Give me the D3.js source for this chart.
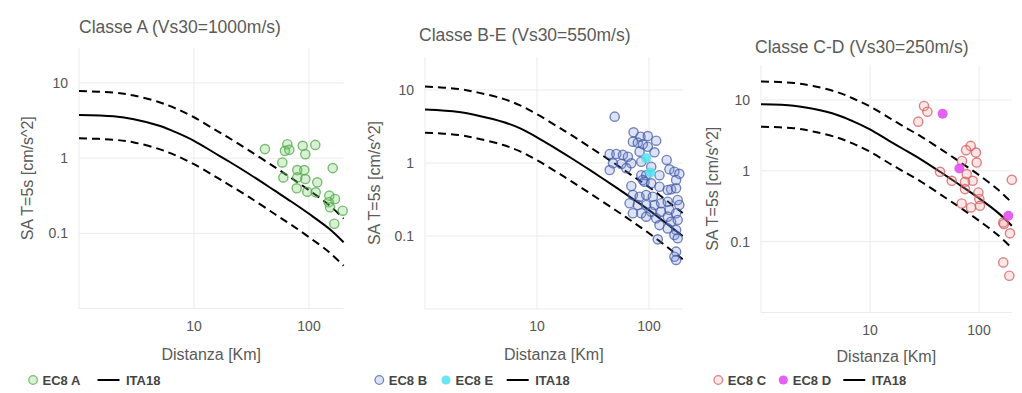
<!doctype html>
<html>
<head>
<meta charset="utf-8">
<script src="https://d3js.org/d3.v7.min.js"></script>
<style>
  body { margin: 0; background: #fff; }
  text { font-family: "Liberation Sans", Arial, sans-serif; }
</style>
</head>
<body>
<svg id="chart" width="1022" height="393"></svg>
<script>

// model curve distances (km)
var curveDist = [1, 2, 3, 5, 7, 10, 15, 20, 30, 50, 70, 100, 150, 200];

// ITA18 median and +/- sigma, SA T=5s
var ita18A    = [3.75, 3.6, 3.3, 2.7, 2.2, 1.7, 1.18, 0.91, 0.62, 0.372, 0.265, 0.182, 0.115, 0.076];
var ita18A_hi = [7.8, 7.45, 6.8, 5.55, 4.55, 3.5, 2.42, 1.87, 1.27, 0.765, 0.545, 0.375, 0.237, 0.157];
var ita18A_lo = [1.84, 1.76, 1.62, 1.32, 1.08, 0.83, 0.58, 0.445, 0.305, 0.182, 0.13, 0.089, 0.056, 0.037];

var ita18B    = [5.4, 5.0, 4.45, 3.65, 3.0, 2.25, 1.55, 1.18, 0.79, 0.47, 0.33, 0.226, 0.14, 0.1];
var ita18B_hi = [11.2, 10.3, 9.2, 7.55, 6.2, 4.65, 3.2, 2.44, 1.63, 0.97, 0.68, 0.468, 0.29, 0.207];
var ita18B_lo = [2.6, 2.42, 2.15, 1.76, 1.45, 1.09, 0.75, 0.57, 0.38, 0.227, 0.16, 0.109, 0.068, 0.048];

var ita18C    = [8.7, 8.3, 7.5, 6.15, 5.0, 3.85, 2.65, 2.05, 1.42, 0.85, 0.6, 0.41, 0.255, 0.168];
var ita18C_hi = [18.3, 17.4, 15.8, 12.9, 10.5, 8.1, 5.6, 4.3, 3.0, 1.8, 1.27, 0.87, 0.54, 0.355];
var ita18C_lo = [4.2, 4.0, 3.6, 2.95, 2.42, 1.86, 1.28, 0.99, 0.69, 0.41, 0.29, 0.198, 0.123, 0.081];

// recorded data
var ec8A_dist = [41.4, 64.8, 61.8, 67.4, 88.2, 113.4, 92.9, 58.6, 160.7, 79.1, 91.0, 59.8, 79.1, 92.9, 118, 78.2, 96.6, 114.4, 150.2, 168.3, 148.3, 152.3, 196.3, 166];
var ec8A_sa   = [1.32, 1.53, 1.25, 1.29, 1.46, 1.50, 1.13, 0.877, 0.737, 0.694, 0.694, 0.555, 0.555, 0.527, 0.477, 0.397, 0.358, 0.351, 0.317, 0.286, 0.259, 0.222, 0.200, 0.134];

var ec8B_dist = [49.4, 72.8, 84.0, 97.5, 115.9, 71.8, 79.5, 88.1, 97.5, 82.4, 111.9, 44.6, 51.1, 58.5, 64.8, 143.9, 47.7, 56.6, 69.5, 85.3,
                 104.7, 44.6, 62.7, 152.1, 168.6, 186.6, 124, 85.3, 94.4, 174.6, 69.5, 157.5, 88.1, 91.2, 104.7, 124, 146.9, 174.6, 71.8, 82.4,
                 94.4, 108.1, 67.1, 79.5, 94.4, 111.9, 128.3, 146.9, 180.3, 186.6, 71.8, 85.3, 104.7, 128.3, 152.1, 94.4, 115.9, 146.9, 174.6, 124,
                 157.5, 180.3, 146.9, 174.6, 168.6, 180.3, 119.7, 174.6, 168.6, 174.6];
var ec8B_sa   = [4.31, 2.63, 2.29, 2.34, 2.02, 1.96, 1.90, 1.80, 1.67, 1.43, 1.40, 1.33, 1.33, 1.29, 1.22, 1.10, 0.99, 0.97, 0.99, 1.04,
                 0.89, 0.80, 0.85, 0.82, 0.76, 0.71, 0.68, 0.68, 0.68, 0.585, 0.484, 0.436, 0.585, 0.555, 0.527, 0.473, 0.427, 0.45, 0.365, 0.345,
                 0.365, 0.345, 0.281, 0.266, 0.266, 0.266, 0.281, 0.295, 0.311, 0.266, 0.205, 0.205, 0.215, 0.215, 0.227, 0.184, 0.175, 0.184, 0.205, 0.141,
                 0.157, 0.166, 0.127, 0.121, 0.103, 0.093, 0.090, 0.061, 0.052, 0.047];

var ec8E_dist = [94.4, 103];
var ec8E_sa   = [1.16, 0.74];

var ec8C_dist = [31.3, 33.6, 27.7, 83.9, 76, 93.8, 69.8, 95.2, 43.9, 77.1, 56.2, 87.5, 74.4, 200, 74.4, 98.6, 100.7, 69.4, 84.5, 102.1, 167, 169.5, 192.4, 167, 189.7];
var ec8C_sa   = [8.23, 6.84, 4.95, 2.25, 1.96, 1.81, 1.38, 1.31, 0.968, 0.90, 0.723, 0.723, 0.70, 0.747, 0.552, 0.495, 0.40, 0.346, 0.304, 0.321, 0.187, 0.178, 0.131, 0.051, 0.033];

var ec8D_dist = [46.4, 66, 185.8];
var ec8D_sa   = [6.41, 1.08, 0.232];

var xTicks = [10, 100];
var yTicks = [0.1, 1, 10];
var titles = ["Classe A (Vs30=1000m/s)", "Classe B-E (Vs30=550m/s)", "Classe C-D (Vs30=250m/s)"];

var svg = d3.select("#chart");
svg.append("rect").attr("width", 1022).attr("height", 393).attr("fill", "#fff");

function pairs(xs, ys) { return xs.map(function(x, i) { return [x, ys[i]]; }); }

var panels = [
  { title: titles[0], x0: 79, x1: 343.5, y0: 308.5, y1: 48, yTop: 29.2, titleX: 79, titleY: 33, yTitleX: 33, xTitleY: 360,
    curve: [ita18A, ita18A_hi, ita18A_lo],
    series: [{ name: "EC8 A", dist: ec8A_dist, sa: ec8A_sa, stroke: "rgba(80,170,70,0.75)", fill: "rgba(120,200,110,0.28)", open: true }],
    legendX: [33, 97.5] },
  { title: titles[1], x0: 425, x1: 682.6, y0: 309, y1: 57, yTop: 28.3, titleX: 419, titleY: 41, yTitleX: 380, xTitleY: 360,
    curve: [ita18B, ita18B_hi, ita18B_lo],
    series: [{ name: "EC8 B", dist: ec8B_dist, sa: ec8B_sa, stroke: "rgba(60,85,165,0.7)", fill: "rgba(120,140,210,0.25)", open: true },
             { name: "EC8 E", dist: ec8E_dist, sa: ec8E_sa, stroke: "rgba(80,225,240,0.85)", fill: "rgba(80,225,240,0.85)", open: false }],
    legendX: [379.3, 446, 506.7] },
  { title: titles[2], x0: 761, x1: 1011.7, y0: 312.5, y1: 65, yTop: 31.2, titleX: 755, titleY: 53, yTitleX: 718, xTitleY: 361.5,
    curve: [ita18C, ita18C_hi, ita18C_lo],
    series: [{ name: "EC8 C", dist: ec8C_dist, sa: ec8C_sa, stroke: "rgba(215,90,90,0.75)", fill: "rgba(240,160,160,0.25)", open: true },
             { name: "EC8 D", dist: ec8D_dist, sa: ec8D_sa, stroke: "rgba(225,80,240,0.9)", fill: "rgba(225,80,240,0.9)", open: false }],
    legendX: [718.3, 783.3, 843.3] }
];

panels.forEach(function(p) {
  var x = d3.scaleLog().domain([1, Math.pow(10, 2.3)]).range([p.x0, p.x1]);
  var y = d3.scaleLog().domain([0.01, p.yTop]).range([p.y0, p.y1]);
  var g = svg.append("g");

  // grid
  g.selectAll(".gx").data([1].concat(xTicks)).enter().append("line")
    .attr("x1", function(d) { return x(d); }).attr("x2", function(d) { return x(d); })
    .attr("y1", p.y0).attr("y2", p.y1)
    .attr("stroke", "#ebebeb").attr("stroke-width", 1);
  g.selectAll(".gy").data([0.01].concat(yTicks)).enter().append("line")
    .attr("x1", p.x0).attr("x2", p.x1)
    .attr("y1", function(d) { return y(d); }).attr("y2", function(d) { return y(d); })
    .attr("stroke", "#ebebeb").attr("stroke-width", 1);

  // tick labels
  g.selectAll(".tx").data(xTicks).enter().append("text")
    .attr("x", function(d) { return x(d); }).attr("y", p.y0 + 22)
    .attr("text-anchor", "middle").attr("font-size", 14).attr("fill", "#555")
    .text(function(d) { return d; });
  g.selectAll(".ty").data(yTicks).enter().append("text")
    .attr("x", p.x0 - 11).attr("y", function(d) { return y(d) + 5; })
    .attr("text-anchor", "end").attr("font-size", 14).attr("fill", "#555")
    .text(function(d) { return d; });

  // titles
  g.append("text").attr("x", p.titleX).attr("y", p.titleY)
    .attr("font-size", 17.5).attr("fill", "#5a5a5a").text(p.title);
  g.append("text").attr("x", (p.x0 + p.x1) / 2).attr("y", p.xTitleY)
    .attr("text-anchor", "middle").attr("font-size", 16).attr("fill", "#5a5a5a").text("Distanza [Km]");
  g.append("text")
    .attr("transform", "translate(" + p.yTitleX + "," + ((p.y0 + p.y1) / 2) + ") rotate(-90)")
    .attr("text-anchor", "middle").attr("font-size", 16).attr("fill", "#5a5a5a").text("SA T=5s [cm/s^2]");

  // ITA18 curves
  var line = d3.line().x(function(d) { return x(d[0]); }).y(function(d) { return y(d[1]); }).curve(d3.curveCatmullRom.alpha(0.5));
  p.curve.forEach(function(c, i) {
    g.append("path").datum(pairs(curveDist, c))
      .attr("d", line).attr("fill", "none").attr("stroke", "#000").attr("stroke-width", 2)
      .attr("stroke-dasharray", i === 0 ? null : "8,5");
  });

  // points
  p.series.forEach(function(s) {
    g.selectAll(null).data(pairs(s.dist, s.sa)).enter().append("circle")
      .attr("cx", function(d) { return x(d[0]); }).attr("cy", function(d) { return y(d[1]); })
      .attr("r", s.open ? 4.6 : 5).attr("fill", s.fill)
      .attr("stroke", s.stroke).attr("stroke-width", s.open ? 1.4 : 0);
  });

  // legend
  var ly = 380;
  p.series.forEach(function(s, i) {
    var lx = p.legendX[i];
    g.append("circle").attr("cx", lx).attr("cy", ly).attr("r", s.open ? 4.3 : 4.6)
      .attr("fill", s.fill).attr("stroke", s.stroke).attr("stroke-width", s.open ? 1.3 : 0);
    g.append("text").attr("x", lx + 9.5).attr("y", ly + 4.5).attr("font-size", 13)
      .attr("font-weight", "bold").attr("fill", "#444").text(s.name);
  });
  var llx = p.legendX[p.series.length];
  g.append("line").attr("x1", llx).attr("x2", llx + 22).attr("y1", ly).attr("y2", ly)
    .attr("stroke", "#000").attr("stroke-width", 2);
  g.append("text").attr("x", llx + 28.5).attr("y", ly + 4.5).attr("font-size", 13)
    .attr("font-weight", "bold").attr("fill", "#444").text("ITA18");
});
</script>
</body>
</html>
